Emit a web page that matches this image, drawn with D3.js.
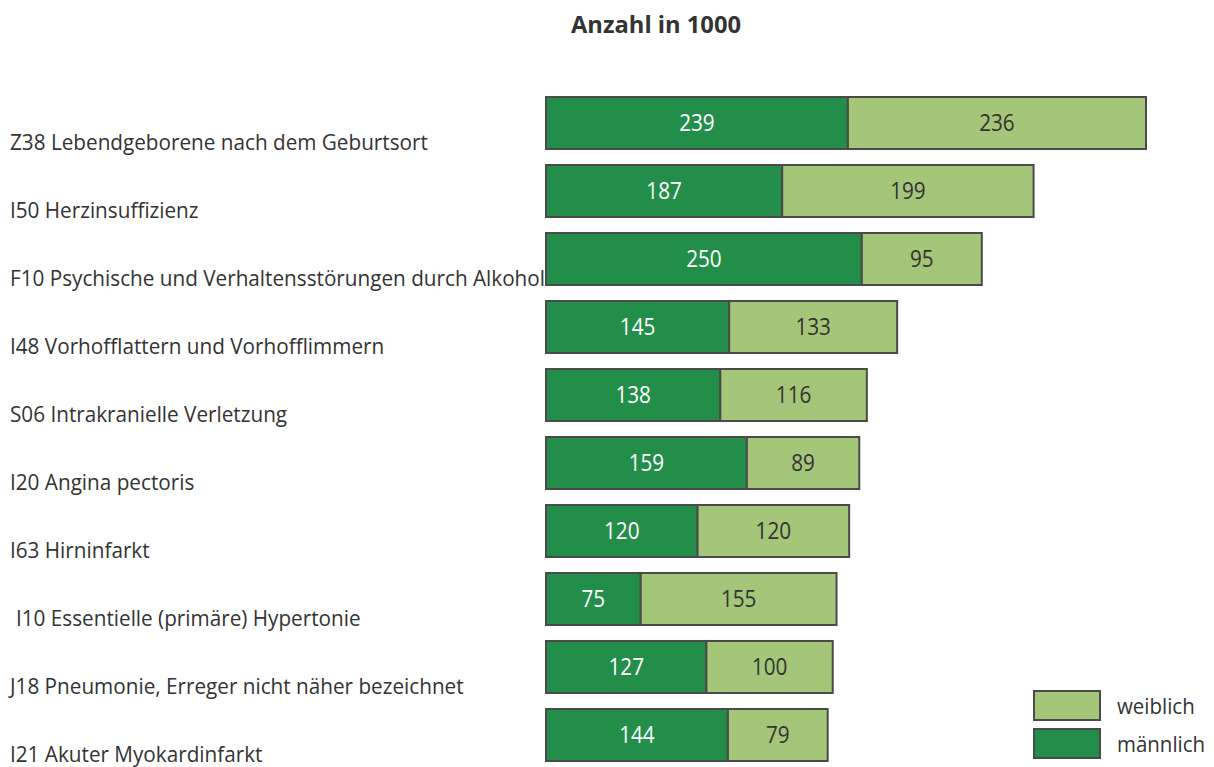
<!DOCTYPE html>
<html>
<head>
<meta charset="utf-8">
<script src="https://cdn.jsdelivr.net/npm/d3@7"></script>
<style>
  body { margin: 0; background: #fff; }
  text { font-family: "Open Sans", "DejaVu Sans", sans-serif; }
</style>
</head>
<body>
<svg id="chart"></svg>
<script>
const categories = [
  "Z38 Lebendgeborene nach dem Geburtsort",
  "I50 Herzinsuffizienz",
  "F10 Psychische und Verhaltensstörungen durch Alkohol",
  "I48 Vorhofflattern und Vorhofflimmern",
  "S06 Intrakranielle Verletzung",
  "I20 Angina pectoris",
  "I63 Hirninfarkt",
  "I10 Essentielle (primäre) Hypertonie",
  "J18 Pneumonie, Erreger nicht näher bezeichnet",
  "I21 Akuter Myokardinfarkt"
];
const maennlich = [239, 187, 250, 145, 138, 159, 120, 75, 127, 144];
const weiblich = [236, 199, 95, 133, 116, 89, 120, 155, 100, 79];
const seriesNames = ["männlich", "weiblich"];
const title = "Anzahl in 1000";

const WIDTH = 1214;
const HEIGHT = 767;
const DARK = '#238e4a';
const LIGHT = '#a3c679';
const STROKE = '#4a4a4a';
const TEXT = '#333';

// squeeze a text horizontally (the original uses a narrow font)
function condense(sel, factor) {
  sel.each(function() {
    const len = this.getComputedTextLength();
    d3.select(this)
      .attr('textLength', len * factor)
      .attr('lengthAdjust', 'spacingAndGlyphs');
  });
}

const svg = d3.select('#chart').attr('width', WIDTH).attr('height', HEIGHT);

const data = categories.map((c, i) => ({ cat: c, m: maennlich[i], w: weiblich[i] }));

const x = d3.scaleLinear().domain([0, 475]).range([546, 1146]);
const y = d3.scaleBand().domain(categories).range([97, 761]).paddingInner(0.235).paddingOuter(0);

const titleText = svg.append('text')
  .attr('x', 656).attr('y', 33)
  .attr('text-anchor', 'middle')
  .attr('font-size', 24).attr('font-weight', 'bold')
  .attr('fill', TEXT)
  .text(title);
titleText.call(condense, 170 / titleText.node().getComputedTextLength());

const row = svg.selectAll('.row')
  .data(data)
  .enter().append('g')
  .attr('class', 'row');

// männlich
row.append('rect')
  .attr('x', x(0))
  .attr('y', d => y(d.cat))
  .attr('width', d => x(d.m) - x(0))
  .attr('height', y.bandwidth())
  .attr('fill', DARK).attr('stroke', STROKE).attr('stroke-width', 2);

// weiblich
row.append('rect')
  .attr('x', d => x(d.m))
  .attr('y', d => y(d.cat))
  .attr('width', d => x(d.m + d.w) - x(d.m))
  .attr('height', y.bandwidth())
  .attr('fill', LIGHT).attr('stroke', STROKE).attr('stroke-width', 2);

row.append('text')
  .attr('x', d => (x(0) + x(d.m)) / 2)
  .attr('y', d => y(d.cat) + y.bandwidth() / 2 + 8)
  .attr('text-anchor', 'middle')
  .attr('font-size', 23).attr('fill', '#fff')
  .text(d => d.m)
  .call(condense, 0.9);

row.append('text')
  .attr('x', d => (x(d.m) + x(d.m + d.w)) / 2)
  .attr('y', d => y(d.cat) + y.bandwidth() / 2 + 8)
  .attr('text-anchor', 'middle')
  .attr('font-size', 23).attr('fill', TEXT)
  .text(d => d.w)
  .call(condense, 0.9);

// category labels, fitted so the longest one ends at the bars
const labels = row.append('text')
  .attr('class', 'cat-label')
  .attr('x', (d, i) => i === 7 ? 16 : 10)
  .attr('y', d => y(d.cat) + y.bandwidth() + 1)
  .attr('font-size', 22).attr('fill', TEXT)
  .text(d => d.cat);

const longestLen = d3.max(labels.nodes(), n => n.getComputedTextLength());
labels.call(condense, 535 / longestLen);

// legend
const legendItems = [
  { name: seriesNames[1], color: LIGHT },
  { name: seriesNames[0], color: DARK }
];
const legend = svg.append('g');
legend.selectAll('rect')
  .data(legendItems)
  .enter().append('rect')
  .attr('x', 1034)
  .attr('y', (d, i) => 691 + i * 38)
  .attr('width', 66).attr('height', 29)
  .attr('fill', d => d.color).attr('stroke', STROKE).attr('stroke-width', 2);
legend.selectAll('text')
  .data(legendItems)
  .enter().append('text')
  .attr('x', 1117)
  .attr('y', (d, i) => 714 + i * 38)
  .attr('font-size', 22).attr('fill', TEXT)
  .text(d => d.name)
  .call(condense, 0.93);
</script>
</body>
</html>
